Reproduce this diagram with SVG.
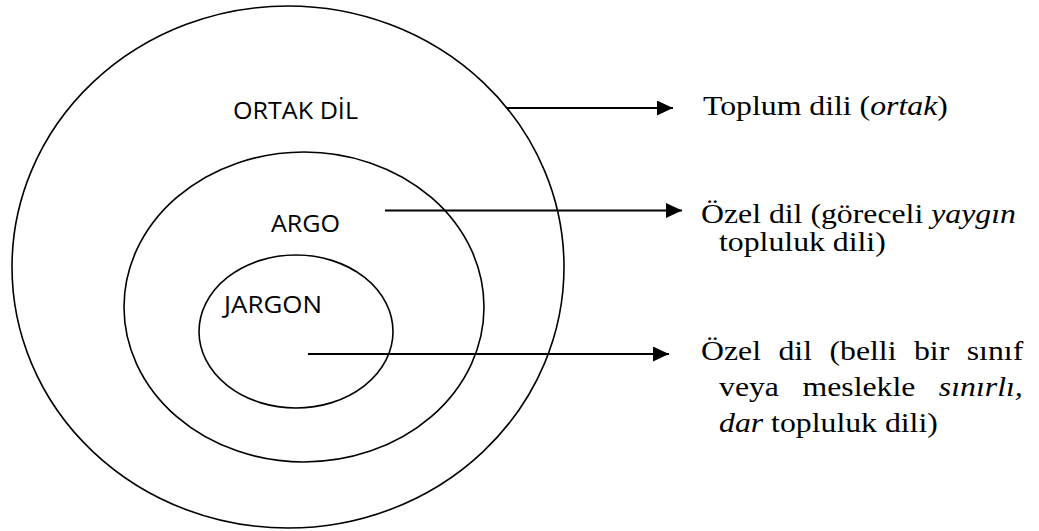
<svg xmlns="http://www.w3.org/2000/svg" width="1039" height="531" viewBox="0 0 1039 531">
<style>
.ring{fill:none;stroke:#000;stroke-width:1.6}
.lbl{font-family:"Open Sans","Liberation Sans",sans-serif;font-size:24px;fill:#000}
.desc{font-family:"Liberation Serif","Times New Roman",serif;font-size:28px;fill:#000}
.conn{stroke:#000;stroke-width:2.2;fill:none}
.it{font-style:italic}
</style>
<defs>
<marker id="ah" viewBox="0 0 16 15" refX="16" refY="7.5" markerWidth="16" markerHeight="15" markerUnits="userSpaceOnUse" orient="auto">
<path d="M0,0 L16,7.5 L0,15 Z" fill="#000"/>
</marker>
</defs>
<rect width="1039" height="531" fill="#fff"/>
<g id="ortak">
<ellipse class="ring" cx="288" cy="267" rx="276" ry="261"/>
<text class="lbl" x="233" y="119" textLength="125" lengthAdjust="spacingAndGlyphs">ORTAK DİL</text>
</g>
<g id="argo">
<ellipse class="ring" cx="304" cy="307" rx="180" ry="155"/>
<text class="lbl" x="271" y="232" textLength="69" lengthAdjust="spacingAndGlyphs">ARGO</text>
</g>
<g id="jargon">
<ellipse class="ring" cx="296" cy="331.5" rx="97" ry="76.5"/>
<text class="lbl" x="224" y="313" textLength="98" lengthAdjust="spacingAndGlyphs">JARGON</text>
</g>
<g id="connectors">
<line class="conn" x1="507" y1="108" x2="673" y2="108" marker-end="url(#ah)"/>
<line class="conn" x1="385" y1="210.5" x2="682" y2="210.5" marker-end="url(#ah)"/>
<line class="conn" x1="308" y1="354" x2="669" y2="354" marker-end="url(#ah)"/>
</g>
<g id="desc1">
<text class="desc" transform="translate(703,115) scale(1.135,1)">Toplum dili (<tspan class="it">ortak</tspan>)</text>
</g>
<g id="desc2">
<text class="desc" transform="translate(701,223) scale(1.135,1)">Özel dil (göreceli <tspan class="it">yaygın</tspan></text>
<text class="desc" transform="translate(719,251) scale(1.135,1)">topluluk dili)</text>
</g>
<g id="desc3">
<text class="desc" transform="translate(701,360) scale(1.135,1)" word-spacing="8.4">Özel dil (belli bir sınıf</text>
<text class="desc" transform="translate(719,396) scale(1.135,1)" word-spacing="13.7">veya meslekle <tspan class="it">sınırlı,</tspan></text>
<text class="desc" transform="translate(719,432) scale(1.135,1)"><tspan class="it">dar</tspan> topluluk dili)</text>
</g>
</svg>
